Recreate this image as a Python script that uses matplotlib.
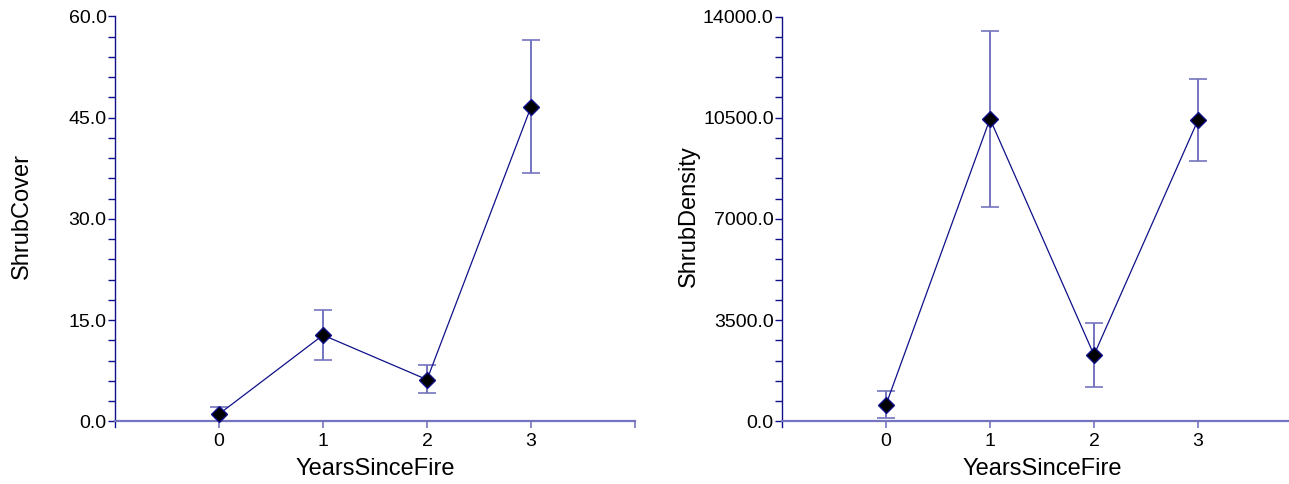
import numpy as np
import matplotlib.pyplot as plt

plt.rcParams['font.family'] = ['Liberation Sans', 'DejaVu Sans']

# data
years = [0, 1, 2, 3]
cover_mean = [1.1, 12.8, 6.2, 46.6]
cover_lo = [0.1, 9.1, 4.2, 36.8]
cover_hi = [2.1, 16.5, 8.3, 56.5]

density_mean = [580, 10460, 2300, 10420]
density_lo = [130, 7400, 1200, 9000]
density_hi = [1050, 13510, 3400, 11840]

NAVY = '#10108a'
LIGHT = '#7474c0'


def draw_panel(ax, mean, lo, hi, ymax, ylabel):
    mean = np.array(mean)
    yerr = [mean - np.array(lo), np.array(hi) - mean]
    ax.plot(years, mean, color=NAVY, lw=0.9, zorder=3)
    _, caps, bars = ax.errorbar(years, mean, yerr=yerr, fmt='none',
                                ecolor=LIGHT, elinewidth=1.4,
                                capsize=6.5, capthick=1.2, zorder=2)
    for c in caps:
        c.set_color(NAVY)
    ax.plot(years, mean, ls='none', marker='D', ms=8, mfc='black',
            mec=NAVY, mew=1.0, zorder=4)

    ax.set_xlim(-1, 4)
    ax.set_ylim(-ymax * 0.0136, ymax)
    ax.spines['top'].set_visible(False)
    ax.spines['right'].set_visible(False)
    ax.spines['bottom'].set_position(('data', 0))
    ax.spines['bottom'].set_color(LIGHT)
    ax.spines['bottom'].set_linewidth(1.6)
    ax.spines['left'].set_color(NAVY)
    ax.spines['left'].set_linewidth(1.0)

    ax.set_xticks([0, 1, 2, 3, 4])
    ax.set_xticklabels(['0', '1', '2', '3', ''])
    step = ymax / 4
    ax.set_yticks(np.arange(0, ymax + step / 2, step))
    ax.set_yticklabels(['%.1f' % v for v in np.arange(0, ymax + step / 2, step)])
    ax.set_yticks(np.arange(0, ymax + 1e-9, step / 5), minor=True)
    ax.tick_params(axis='x', direction='out', length=5, width=1.2,
                   color=LIGHT, labelsize=14, pad=3)
    ax.tick_params(axis='y', which='both', direction='out', length=5,
                   width=1.0, color=NAVY, labelsize=14, pad=1)
    ax.set_xlabel('YearsSinceFire', fontsize=17, labelpad=6)
    ax.set_ylabel(ylabel, fontsize=17)
    ax.yaxis.set_label_coords(-0.158, 0.515)


fig = plt.figure(figsize=(12.89, 4.84), dpi=100)
W, H = 1289, 484
ax1 = fig.add_axes([115 / W, (484 - 427) / H, 520 / W, (427 - 16.5) / H])
ax2 = fig.add_axes([782 / W, (484 - 427) / H, 520 / W, (427 - 16.5) / H])

draw_panel(ax1, cover_mean, cover_lo, cover_hi, 60.0, 'ShrubCover')
draw_panel(ax2, density_mean, density_lo, density_hi, 14000.0, 'ShrubDensity')

fig.savefig('out.png', dpi=100)
